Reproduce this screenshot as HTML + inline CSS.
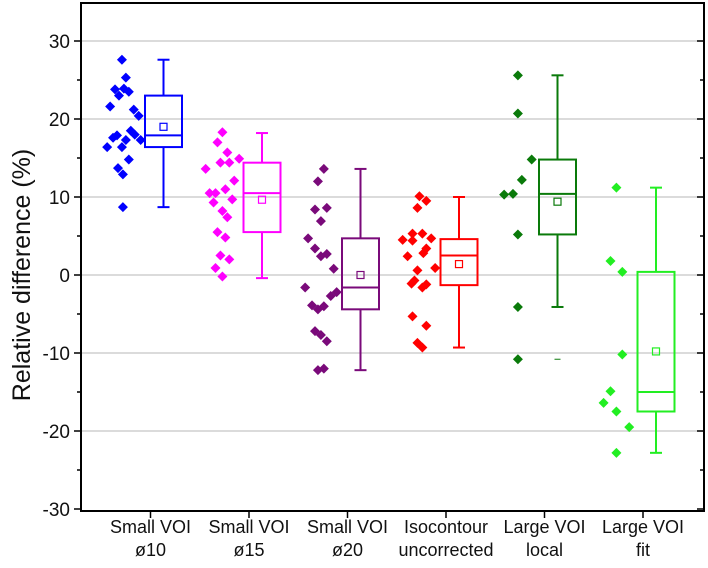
<!DOCTYPE html>
<html><head><meta charset="utf-8"><style>
body{margin:0;background:#fff}
svg{display:block;font-family:"Liberation Sans",Arial,sans-serif}
</style></head><body>
<svg id="chart" width="708" height="568"></svg>
<script>
const categories=["Small VOI|ø10","Small VOI|ø15","Small VOI|ø20","Isocontour|uncorrected","Large VOI|local","Large VOI|fit"];
const colors=["#0000ff","#ff00ff","#7a0a7a","#ff0000","#0a7a0a","#22ee22"];
const yTicks=[30,20,10,0,-10,-20,-30];
const pts0=[27.6,25.3,23.8,23.9,23.5,23.0,21.6,21.2,20.4,18.5,18.0,17.3,17.9,17.6,17.3,16.4,16.4,14.8,13.7,12.9,8.7];
const jit0=[-.29,-.25,-.36,-.27,-.22,-.32,-.41,-.17,-.12,-.20,-.16,-.10,-.34,-.38,-.25,-.44,-.29,-.22,-.33,-.28,-.28];
const pts1=[18.3,17.0,15.7,14.9,14.4,14.4,13.6,12.1,11.0,10.5,10.5,9.7,9.3,8.2,7.4,5.5,4.8,2.5,2.0,0.9,-0.2];
const jit1=[-.27,-.32,-.22,-.10,-.29,-.20,-.44,-.15,-.24,-.40,-.34,-.17,-.36,-.27,-.22,-.32,-.24,-.29,-.20,-.34,-.27];
const pts2=[13.6,12.0,8.4,8.6,6.9,4.7,3.4,2.4,2.7,0.8,-1.6,-2.2,-2.7,-3.9,-4.4,-4.0,-7.2,-7.7,-8.5,-12.2,-12.0];
const jit2=[-.24,-.30,-.33,-.21,-.27,-.40,-.33,-.27,-.21,-.14,-.43,-.11,-.17,-.36,-.30,-.24,-.33,-.27,-.21,-.30,-.24];
const pts3=[10.1,9.5,8.6,5.3,5.3,4.5,4.4,4.7,3.4,2.8,2.4,0.9,0.6,-0.7,-1.1,-1.2,-1.6,-5.3,-6.5,-8.7,-9.3];
const jit3=[-.27,-.20,-.29,-.34,-.24,-.44,-.34,-.15,-.20,-.23,-.39,-.11,-.29,-.32,-.35,-.20,-.24,-.34,-.20,-.29,-.24];
const pts4=[25.6,20.7,14.8,12.2,10.3,10.4,5.2,-4.1,-10.8];
const jit4=[-.27,-.27,-.13,-.23,-.41,-.32,-.27,-.27,-.27];
const pts5=[11.2,1.8,0.4,-10.2,-14.9,-16.4,-17.5,-19.5,-22.8];
const jit5=[-.27,-.33,-.21,-.21,-.33,-.40,-.27,-.14,-.27];
const whiskerHigh=[27.6,18.2,13.6,10.0,25.6,11.2];
const q3=[23.0,14.4,4.7,4.6,14.8,0.4];
const median=[17.9,10.5,-1.6,2.5,10.4,-15.0];
const mean=[19.0,9.65,0,1.4,9.4,-9.8];
const q1=[16.4,5.5,-4.4,-1.3,5.2,-17.5];
const whiskerLow=[8.7,-0.4,-12.2,-9.3,-4.1,-22.8];
const minMark=[null,null,null,null,-10.8,null];
const points=[pts0,pts1,pts2,pts3,pts4,pts5];
const jitters=[jit0,jit1,jit2,jit3,jit4,jit5];

const L=81,R=704,T=3,B=511,band=98.5;
const y=v=>275-7.8*v;
const x=i=>150.5+band*i;
const NS="http://www.w3.org/2000/svg";
const svg=document.getElementById('chart');
function mk(tag,a,parent){const e=document.createElementNS(NS,tag);for(const k in a)e.setAttribute(k,a[k]);(parent||svg).appendChild(e);return e;}

// grid
yTicks.forEach(v=>{if(v>-30){const g=mk('line',{x1:L,x2:R,y1:y(v),y2:y(v),stroke:'#cfcfcf','stroke-width':1.5});

}});

categories.forEach((c,i)=>{
 const col=colors[i],cx=x(i),bx=cx+13,bw=37;
 const grp=mk('g',{});
 
 
 points[i].forEach((v,j)=>{const px=cx+jitters[i][j]*band,py=y(v);
  const d=mk('polygon',{points:`${px},${py-5} ${px+5},${py} ${px},${py+5} ${px-5},${py}`,fill:col},grp);
  
  });
 const sw={stroke:col,'stroke-width':2,fill:'none'};
 const w1=mk('line',{x1:bx,x2:bx,y1:y(whiskerHigh[i]),y2:y(q3[i]),...sw},grp);
 
 
 const w2=mk('line',{x1:bx,x2:bx,y1:y(q1[i]),y2:y(whiskerLow[i]),...sw},grp);
 
 
 [whiskerHigh[i],whiskerLow[i]].forEach(v=>{const cp=mk('line',{x1:bx-6,x2:bx+6,y1:y(v),y2:y(v),...sw},grp);
  
  });
 const box=mk('rect',{x:bx-bw/2,y:y(q3[i]),width:bw,height:y(q1[i])-y(q3[i]),...sw},grp);
 
 
 const md=mk('line',{x1:bx-bw/2,x2:bx+bw/2,y1:y(median[i]),y2:y(median[i]),...sw},grp);
 
 
 const mn=mk('rect',{x:bx-3.5,y:y(mean[i])-3.5,width:7,height:7,stroke:col,'stroke-width':1.2,fill:'none'},grp);
 
 
 if(minMark[i]!==null){const mm=mk('line',{x1:bx-3,x2:bx+3,y1:y(minMark[i]),y2:y(minMark[i]),stroke:col,'stroke-width':1},grp);
  
  }
 const tk=mk('line',{x1:cx,x2:cx,y1:B,y2:B+7,stroke:'#000','stroke-width':1.5});
 
 
 const parts=c.split('|');
 const t=mk('text',{x:cx,y:533,'text-anchor':'middle','font-size':18,fill:'#111'});
 
 
 parts.forEach((p,k)=>{const ts=mk('tspan',{x:cx,dy:k?23:0},t);ts.textContent=p;});
});

// y ticks
for(let v=-30;v<=30;v+=5){
 const major=v%10===0;
 const t=mk('line',{x1:L-(major?7:4),x2:L,y1:y(v),y2:y(v),stroke:'#000','stroke-width':1.5});
 
 
 const t2=mk('line',{x1:R-(major?7:4),x2:R,y1:y(v),y2:y(v),stroke:'#000','stroke-width':1.5});
 
 
}
yTicks.forEach(v=>{const t=mk('text',{x:L-11,y:y(v)+7,'text-anchor':'end','font-size':19,fill:'#111'});
 t.textContent=v;
 
 });

const frame=mk('rect',{x:L,y:T,width:R-L,height:B-T,fill:'none',stroke:'#000','stroke-width':2});



const yt=mk('text',{x:0,y:0,transform:'translate(30,275) rotate(-90)','text-anchor':'middle','font-size':25,fill:'#111'});
yt.textContent='Relative difference (%)';


</script>
</body></html>
